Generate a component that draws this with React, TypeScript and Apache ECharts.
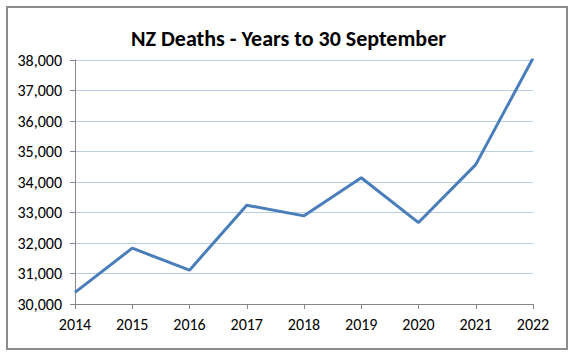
import React, { useEffect, useRef } from "react";
import * as echarts from "echarts";

const years = ["2014", "2015", "2016", "2017", "2018", "2019", "2020", "2021", "2022"];
const deaths = [30380, 31830, 31110, 33240, 32890, 34140, 32670, 34570, 38060];
const titleText = "NZ Deaths - Years to 30 September";

export default function App() {
  const ref = useRef<HTMLDivElement>(null);
  useEffect(() => {
    const chart = echarts.init(ref.current!, null, { renderer: "svg" });
    const font = "Carlito, 'Open Sans', 'Liberation Sans', sans-serif";
    chart.setOption({
      animation: false,
      backgroundColor: "#ffffff",
      graphic: [
        {
          type: "rect",
          shape: { x: 7, y: 7, width: 560, height: 342 },
          style: { fill: "none", stroke: "#8c8c8c", lineWidth: 2 },
          z: -1,
        },
      ],
      title: {
        text: titleText,
        left: "center",
        top: 22,
        textStyle: { fontFamily: font, fontWeight: "bold", fontSize: 22, color: "#000" },
      },
      grid: { left: 75, right: 44, top: 60, bottom: 53 },
      xAxis: {
        type: "category",
        data: years,
        boundaryGap: false,
        axisLine: { lineStyle: { color: "#868686", width: 1 } },
        axisTick: { show: true, length: 5, alignWithLabel: true, lineStyle: { color: "#868686" } },
        axisLabel: { color: "#000", fontFamily: font, fontSize: 16, margin: 12 },
        splitLine: { show: false },
      },
      yAxis: {
        type: "value",
        min: 30000,
        max: 38000,
        interval: 1000,
        axisLine: { show: true, lineStyle: { color: "#868686", width: 1 } },
        axisTick: { show: true, length: 5, lineStyle: { color: "#868686" } },
        axisLabel: {
          color: "#000",
          fontFamily: font,
          fontSize: 16,
          margin: 13,
          formatter: (v: number) => v.toLocaleString("en-US"),
        },
        splitLine: { show: true, lineStyle: { color: "#b9cde5", width: 1 } },
      },
      series: [
        {
          type: "line",
          data: deaths,
          symbol: "none",
          lineStyle: { color: "#4a7ebb", width: 3 },
          itemStyle: { color: "#4a7ebb" },
        },
      ],
    });
    return () => chart.dispose();
  }, []);
  return (
    <div
      ref={ref}
      style={{ position: "fixed", left: 0, top: 0, width: 577, height: 357 }}
    />
  );
}
